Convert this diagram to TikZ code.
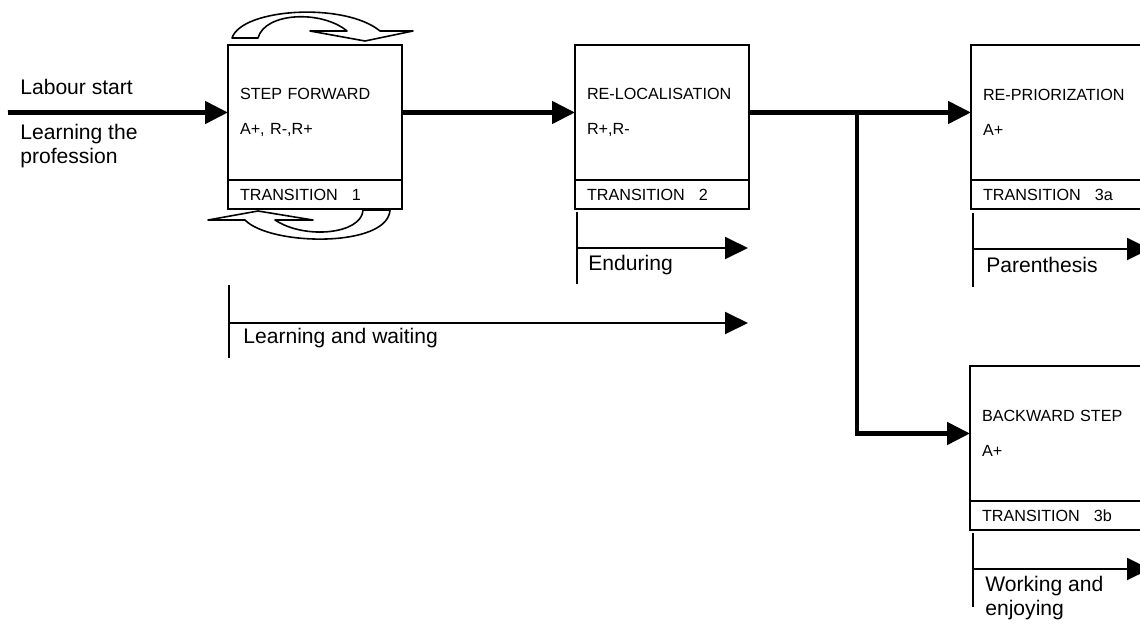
\documentclass[tikz,border=0pt]{standalone}
\usepackage{fontspec}
\setmainfont{Liberation Sans}
\usetikzlibrary{arrows.meta,positioning}

\begin{document}
\begin{tikzpicture}[x=0.02cm,y=-0.02cm,
  stepbox/.style={draw,line width=1.1pt,rectangle,outer sep=0pt,minimum width=3.48cm,minimum height=2.7cm,text width=3.0cm,inner xsep=0.24cm,align=left,font=\fontsize{9.2pt}{11pt}\selectfont,text=black},
  transbox/.style={draw,line width=1.1pt,rectangle,outer sep=0pt,minimum width=3.48cm,minimum height=0.58cm,text width=3.0cm,inner xsep=0.24cm,inner ysep=0pt,align=left,font=\fontsize{9.2pt}{11pt}\selectfont,text=black},
  flow/.style={line width=2.7pt,-{Triangle[length=0.46cm,width=0.44cm]}},
  period/.style={line width=1.1pt,-{Triangle[length=0.46cm,width=0.44cm]}},
  timebar/.style={line width=1.1pt},
  lbl/.style={font=\fontsize{12pt}{13.6pt}\selectfont,align=left,inner sep=0pt},
  turnarrow/.style={draw,fill=white,line width=0.9pt,line join=round}]
  \useasboundingbox (0,0) rectangle (1140,626);
  % boxes
  \node[stepbox,anchor=north west] (step) at (228,45) {STEP FORWARD\\[0.31cm]A+, R-,R+};
  \node[transbox,below=0pt of step] (stepT) {TRANSITION\hspace{0.28cm}1};
  \node[stepbox,anchor=north west] (reloc) at (575,45) {RE-LOCALISATION\\[0.31cm]R+,R-};
  \node[transbox,below=0pt of reloc] (relocT) {TRANSITION\hspace{0.28cm}2};
  \node[stepbox,anchor=north west] (reprior) at (971,45) {RE-PRIORIZATION\\[0.31cm]A+};
  \node[transbox,below=0pt of reprior] (repriorT) {TRANSITION\hspace{0.28cm}3a};
  \node[stepbox,anchor=north west] (backstep) at (970,366) {BACKWARD STEP\\[0.31cm]A+};
  \node[transbox,below=0pt of backstep] (backstepT) {TRANSITION\hspace{0.28cm}3b};
  % turning arrows round step forward
  \path[turnarrow] (232,38) .. controls (242,8) and (345,2) .. (380,31) -- (413,31) -- (365,41) -- (310,31) -- (347,31)
    .. controls (322,10) and (265,12) .. (258,38) -- cycle;
  \path[turnarrow] (390,210) .. controls (388,248) and (270,246) .. (245,220) -- (208,220) -- (258,211) -- (313,220) -- (275,220)
    .. controls (305,240) and (362,234) .. (363,210) -- cycle;
  % main flow
  \coordinate (begin) at (8,112.5);
  \coordinate (fork) at (857,112.5);
  \draw[flow] (begin) -- (step.west);
  \draw[flow] (step.east) -- (reloc.west);
  \draw[flow] (reloc.east) -- (reprior.west);
  \draw[flow] (fork) |- (backstep.west);
  \node[lbl,anchor=west] (labour) at (20,87) {Labour start};
  \node[lbl,anchor=north west] (learn) at (20,124) {Learning the\\profession};
  % learning and waiting
  \draw[timebar] (229,285) -- (229,358);
  \coordinate (lwS) at (229,323);
  \coordinate (lwE) at (748,323);
  \draw[period] (lwS) -- (lwE);
  \node[lbl,anchor=north west] (lw) at (243,328) {Learning and waiting};
  % enduring
  \draw[timebar] (577,212) -- (577,284);
  \coordinate (enS) at (577,248);
  \coordinate (enE) at (748,248);
  \draw[period] (enS) -- (enE);
  \node[lbl,anchor=north west] (en) at (588,255) {Enduring};
  % parenthesis
  \draw[timebar] (973,213) -- (973,287);
  \coordinate (paS) at (973,249);
  \coordinate (paE) at (1150,249);
  \draw[period] (paS) -- (paE);
  \node[lbl,anchor=north west] (pa) at (986,257) {Parenthesis};
  % working and enjoying
  \draw[timebar] (973,533) -- (973,607);
  \coordinate (weS) at (973,569);
  \coordinate (weE) at (1150,569);
  \draw[period] (weS) -- (weE);
  \node[lbl,anchor=north west] (we) at (985,576) {Working and\\enjoying};
\end{tikzpicture}
\end{document}
